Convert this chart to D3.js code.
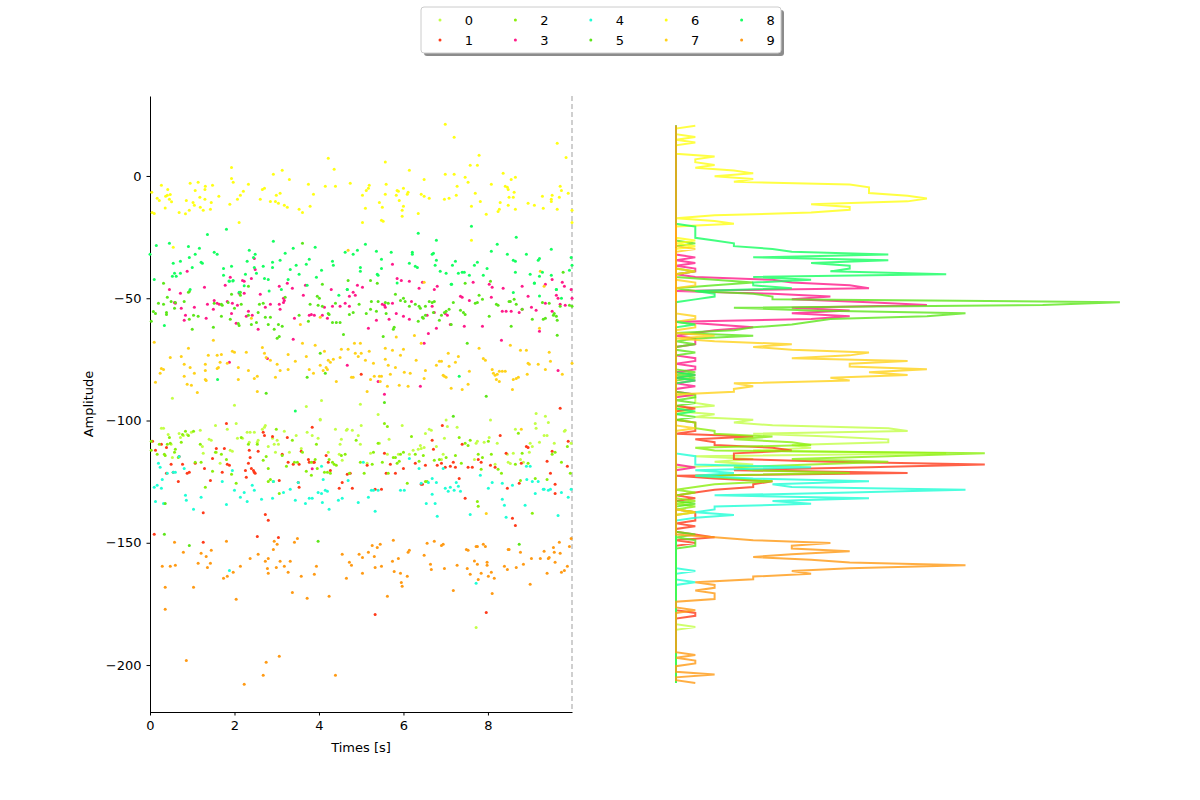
<!DOCTYPE html>
<html>
<head>
<meta charset="utf-8">
<title>Clusters</title>
<script src="https://cdn.jsdelivr.net/npm/d3@7"></script>
<style>
  body { margin: 0; background: #fff; }
  svg text { font-family: "DejaVu Sans", sans-serif; fill: #000; }
</style>
</head>
<body>
<svg id="chart" width="1200" height="800"></svg>
<script>
var labels = ["0", "1", "2", "3", "4", "5", "6", "7", "8", "9"];
var colors = ["#c3ff47", "#ff3a1a", "#8aef0c", "#ff1a8a", "#1effd6",
              "#5ce61a", "#ffff14", "#ffd21a", "#14ff60", "#ff9a14"];
var xTicks = [0, 2, 4, 6, 8];
var yTicks = [0, -50, -100, -150, -200];

// [time, amplitude] for every cluster
var series0 = [[0.27,-103.2],[0.32,-103.2],[0.43,-105.7],[0.50,-109.7],[0.53,-115.1],[0.69,-105.3],[0.72,-106.9],[0.79,-106.1],[0.88,-105.7],[0.98,-104.8],[1.19,-104.0],[1.24,-110.6],[1.26,-113.4],[1.40,-107.7],[1.45,-108.1],[1.55,-102.0],[1.57,-113.0],[1.66,-117.5],[1.83,-103.6],[1.90,-112.2],[1.95,-112.6],[2.04,-101.2],[2.07,-107.3],[2.19,-107.3],[2.30,-104.8],[2.35,-108.9],[2.37,-104.8],[2.47,-104.8],[2.54,-108.9],[2.56,-108.1],[2.66,-103.6],[2.71,-102.8],[2.73,-102.0],[2.80,-110.6],[2.90,-107.3],[2.94,-109.7],[2.97,-113.0],[3.01,-108.1],[3.04,-109.7],[3.18,-104.4],[3.30,-113.0],[3.46,-106.1],[3.58,-111.4],[3.72,-104.8],[3.84,-106.1],[3.98,-107.3],[4.03,-99.8],[4.22,-113.0],[4.39,-103.6],[4.48,-113.8],[4.50,-109.7],[4.53,-107.7],[4.55,-116.3],[4.65,-104.0],[4.67,-103.6],[4.79,-104.0],[4.93,-106.1],[4.98,-109.7],[5.00,-102.0],[5.14,-117.5],[5.22,-113.4],[5.43,-109.3],[5.62,-113.8],[5.66,-107.7],[5.88,-113.8],[5.97,-102.0],[6.14,-113.8],[6.23,-112.2],[6.35,-111.8],[6.40,-110.2],[6.42,-111.4],[6.49,-111.0],[6.52,-105.3],[6.61,-103.6],[6.66,-104.0],[6.78,-110.6],[6.90,-115.9],[6.94,-113.8],[6.97,-107.3],[7.01,-99.8],[7.04,-102.4],[7.27,-102.8],[7.68,-115.9],[7.72,-109.3],[7.75,-108.5],[7.91,-108.9],[8.03,-106.9],[8.06,-99.8],[8.17,-117.9],[8.22,-109.3],[8.46,-113.8],[8.48,-117.1],[8.53,-117.6],[8.60,-113.4],[8.65,-103.6],[8.77,-115.9],[8.84,-117.1],[8.98,-113.0],[9.00,-109.3],[9.05,-110.6],[9.12,-101.2],[9.14,-103.2],[9.22,-108.9],[9.33,-106.1],[9.40,-106.1],[9.43,-100.8],[9.57,-109.3],[9.81,-104.4],[9.83,-104.0],[9.97,-109.3],[0.53,-90.9],[2.00,-93.8],[3.70,-94.3],[4.06,-91.8],[4.98,-93.4],[5.40,-97.5],[9.14,-97.1],[9.36,-98.3],[4.03,-99.5],[7.72,-184.6]];

var series1 = [[0.06,-108.5],[0.13,-112.2],[0.27,-109.7],[0.39,-111.0],[0.39,-121.6],[0.50,-117.9],[0.55,-121.2],[0.67,-124.9],[0.69,-114.7],[0.77,-117.9],[0.88,-121.6],[0.93,-121.2],[1.07,-117.5],[1.26,-137.7],[1.29,-119.6],[1.43,-124.5],[1.48,-115.5],[1.57,-111.4],[1.71,-121.2],[1.76,-111.4],[1.81,-101.2],[1.83,-117.9],[1.88,-118.3],[2.26,-120.4],[2.28,-123.2],[2.33,-117.5],[2.35,-112.2],[2.37,-115.1],[2.40,-119.6],[2.45,-120.4],[2.47,-121.2],[2.49,-121.6],[2.56,-112.6],[2.68,-104.8],[2.71,-106.1],[2.73,-138.4],[2.80,-140.8],[2.90,-106.5],[3.06,-124.5],[3.13,-113.8],[3.25,-106.9],[3.27,-117.1],[3.39,-117.9],[3.51,-125.3],[3.53,-127.3],[3.58,-112.6],[3.75,-115.9],[3.77,-117.1],[3.87,-117.1],[3.89,-117.1],[3.84,-102.8],[4.17,-114.3],[4.22,-117.1],[4.27,-120.4],[4.48,-127.7],[4.55,-125.3],[4.67,-122.0],[4.74,-121.6],[4.79,-127.7],[5.14,-118.3],[5.33,-128.1],[5.48,-128.1],[5.55,-113.4],[5.59,-121.6],[5.69,-117.9],[5.81,-121.6],[6.00,-119.6],[6.28,-117.5],[6.42,-126.1],[6.45,-126.1],[6.52,-118.3],[6.68,-108.1],[6.71,-111.8],[6.80,-118.3],[6.92,-102.0],[6.90,-117.5],[6.99,-119.1],[7.11,-118.7],[7.18,-117.1],[7.23,-119.1],[7.32,-123.7],[7.39,-109.7],[7.46,-131.8],[7.53,-119.1],[7.63,-119.1],[7.77,-115.9],[7.84,-117.1],[8.06,-118.3],[8.17,-119.1],[8.29,-106.1],[8.43,-113.4],[8.46,-127.7],[8.58,-140.0],[8.65,-142.9],[8.74,-125.7],[8.79,-117.5],[8.91,-110.6],[8.95,-111.0],[9.40,-116.7],[9.52,-112.6],[9.59,-126.1],[9.59,-129.8],[9.88,-118.7],[9.90,-108.5],[9.48,-121.6],[0.10,-146.5],[1.26,-149.8],[2.54,-147.4],[3.04,-147.8],[3.53,-117.9],[5.00,-81.1],[9.71,-95.0],[5.33,-179.3],[7.96,-178.5]];

var series2 = [[0.03,-112.2],[0.03,-108.5],[0.17,-113.8],[0.22,-109.7],[0.36,-114.3],[0.34,-113.8],[0.41,-109.7],[0.46,-106.9],[0.48,-109.3],[0.58,-113.0],[0.60,-111.8],[0.67,-115.1],[0.74,-108.9],[0.77,-105.7],[0.84,-104.4],[0.91,-106.1],[1.03,-104.4],[1.07,-117.1],[1.19,-109.7],[1.21,-117.1],[1.31,-127.3],[1.48,-120.8],[1.55,-113.0],[1.69,-113.8],[1.81,-115.9],[1.93,-122.0],[2.04,-125.7],[2.16,-106.9],[2.33,-109.7],[2.54,-109.7],[2.68,-116.3],[2.75,-114.7],[2.80,-119.6],[2.80,-124.9],[2.85,-124.1],[2.92,-124.9],[2.99,-103.6],[3.06,-129.8],[3.13,-114.3],[3.23,-118.7],[3.37,-108.1],[3.42,-117.1],[3.49,-117.1],[3.61,-113.0],[3.70,-120.8],[3.82,-117.1],[3.82,-122.4],[3.91,-115.9],[3.94,-109.7],[3.96,-119.6],[4.13,-121.2],[4.20,-121.2],[4.24,-115.9],[4.27,-121.6],[4.32,-117.1],[4.36,-117.9],[4.41,-118.3],[4.53,-114.3],[4.62,-113.8],[4.72,-121.6],[4.88,-108.1],[4.98,-117.1],[5.07,-121.6],[5.26,-117.9],[5.29,-113.0],[5.40,-109.3],[5.50,-117.1],[5.64,-121.6],[5.76,-115.1],[5.81,-115.1],[5.85,-117.5],[5.90,-116.7],[5.93,-113.8],[6.00,-113.0],[6.09,-125.7],[6.19,-106.5],[6.28,-113.8],[6.37,-116.7],[6.47,-114.3],[6.52,-124.9],[6.56,-124.9],[6.73,-116.3],[6.85,-115.9],[7.01,-115.1],[7.23,-114.3],[7.32,-106.9],[7.37,-117.5],[7.46,-109.3],[7.53,-110.2],[7.58,-108.1],[7.77,-113.8],[7.84,-119.9],[7.87,-115.1],[8.08,-113.8],[8.24,-119.9],[8.32,-121.6],[8.65,-117.9],[8.77,-124.5],[8.81,-113.4],[8.95,-117.5],[9.05,-137.9],[9.12,-123.7],[9.40,-124.1],[9.52,-113.8],[9.59,-113.0],[9.74,-117.1],[9.88,-110.6],[9.95,-121.6],[5.55,-101.2],[5.62,-102.4],[8.72,-105.2],[7.75,-133.1],[7.77,-135.1],[8.01,-108.5]];

var series3 = [[0.46,-46.4],[0.88,-39.0],[1.29,-45.5],[1.78,-44.7],[1.90,-41.4],[2.19,-42.7],[2.23,-43.1],[2.40,-41.9],[2.47,-33.7],[2.49,-38.2],[3.06,-45.1],[3.25,-43.9],[3.37,-45.9],[3.68,-44.7],[4.29,-46.4],[4.91,-44.7],[5.03,-45.5],[5.74,-36.1],[5.85,-41.9],[5.95,-42.7],[6.14,-43.1],[6.37,-45.9],[6.45,-43.5],[6.73,-46.4],[6.80,-45.1],[7.65,-43.5],[8.03,-44.3],[8.10,-45.5],[8.36,-45.9],[8.81,-45.1],[9.36,-44.3],[9.52,-42.3],[9.76,-43.5],[9.81,-45.1],[9.97,-46.4],[0.58,-51.7],[0.60,-52.1],[0.72,-48.0],[0.74,-54.1],[0.81,-59.0],[0.84,-57.0],[1.05,-53.7],[1.33,-58.2],[1.36,-52.5],[1.50,-54.5],[1.52,-50.9],[1.59,-52.1],[1.64,-52.5],[1.83,-51.3],[1.93,-56.2],[1.95,-52.1],[2.04,-60.2],[2.07,-52.9],[2.11,-48.0],[2.23,-48.0],[2.28,-57.4],[2.33,-55.3],[2.42,-57.0],[2.56,-62.7],[2.61,-48.4],[2.73,-53.7],[2.85,-52.5],[3.06,-52.5],[3.08,-54.5],[3.16,-50.0],[3.18,-50.9],[3.16,-51.7],[3.39,-66.8],[3.42,-58.2],[3.63,-48.8],[3.77,-57.0],[3.82,-56.6],[3.89,-57.0],[4.08,-57.0],[4.13,-53.7],[4.20,-58.2],[4.32,-53.3],[4.50,-53.3],[4.62,-52.1],[4.72,-49.2],[4.72,-53.3],[4.81,-47.6],[4.86,-48.8],[5.17,-62.3],[5.36,-59.0],[5.50,-52.5],[5.55,-52.9],[5.57,-53.7],[5.66,-58.6],[5.74,-52.1],[5.83,-56.2],[6.00,-57.4],[6.14,-58.6],[6.19,-51.3],[6.56,-57.0],[6.59,-64.4],[6.68,-53.3],[6.73,-55.8],[6.78,-62.3],[6.99,-56.2],[7.04,-57.0],[7.11,-60.7],[7.35,-49.2],[7.39,-49.6],[7.44,-61.5],[7.56,-50.9],[7.87,-61.5],[8.08,-49.6],[8.32,-67.2],[8.34,-55.3],[8.43,-55.3],[8.55,-55.3],[8.74,-55.8],[8.81,-54.5],[8.95,-49.2],[9.03,-53.7],[9.14,-54.9],[9.22,-63.5],[9.36,-52.1],[9.52,-55.3],[9.62,-48.8],[9.66,-50.0],[9.71,-52.5],[9.99,-50.0],[9.83,-52.9],[1.88,-76.2],[2.78,-74.6],[4.67,-77.4],[5.40,-84.0],[5.55,-89.3],[6.40,-86.0],[6.49,-68.4],[9.66,-79.5],[3.84,-119.7]];

var series4 = [[0.20,-117.5],[0.24,-119.1],[0.10,-127.3],[0.17,-126.5],[0.27,-127.7],[0.29,-124.1],[0.13,-133.1],[0.32,-133.9],[0.41,-121.6],[0.55,-121.2],[0.60,-121.2],[0.69,-114.7],[0.81,-119.6],[0.84,-130.6],[0.86,-132.6],[1.03,-136.3],[1.21,-131.4],[1.71,-124.9],[1.81,-134.3],[1.95,-120.4],[2.00,-128.5],[2.14,-131.4],[2.23,-129.4],[2.30,-133.1],[2.42,-126.5],[2.47,-128.5],[2.64,-132.2],[2.90,-131.8],[2.92,-124.9],[3.16,-129.4],[3.32,-128.1],[3.44,-132.6],[3.51,-125.3],[3.68,-133.9],[3.77,-131.8],[3.84,-131.8],[3.98,-129.4],[4.06,-118.7],[4.06,-129.8],[4.08,-133.5],[4.10,-124.1],[4.15,-128.5],[4.20,-128.9],[4.24,-136.3],[4.46,-132.6],[4.55,-131.8],[4.69,-124.5],[4.93,-133.5],[5.05,-117.1],[5.17,-131.4],[5.24,-128.5],[5.29,-128.5],[5.33,-137.1],[5.40,-128.5],[5.93,-128.5],[6.02,-128.5],[6.14,-115.5],[6.37,-119.6],[6.42,-125.7],[6.54,-133.9],[6.59,-125.3],[6.68,-123.7],[6.68,-130.2],[6.75,-133.9],[6.78,-125.3],[6.80,-139.2],[6.94,-119.6],[6.99,-127.7],[7.06,-128.9],[7.11,-127.3],[7.20,-128.5],[7.25,-125.3],[7.30,-126.9],[7.35,-128.9],[7.58,-138.4],[7.82,-122.4],[8.01,-127.7],[8.10,-125.3],[8.34,-125.7],[8.34,-132.2],[8.39,-134.7],[8.43,-139.6],[8.58,-126.5],[8.88,-134.7],[8.92,-124.1],[9.00,-118.7],[9.05,-124.9],[9.12,-129.8],[9.19,-124.9],[9.31,-128.1],[9.33,-128.1],[9.43,-128.5],[9.48,-128.1],[9.66,-138.8],[9.74,-129.4],[9.90,-131.4],[9.97,-128.1],[8.91,-118.7],[1.88,-161.3],[7.72,-166.6]];

var series5 = [[0.03,-59.4],[0.08,-55.4],[0.13,-56.2],[0.20,-52.1],[0.32,-52.5],[0.39,-55.8],[0.39,-56.6],[0.41,-49.6],[0.50,-51.3],[0.58,-54.1],[0.60,-51.7],[0.81,-51.3],[0.91,-47.6],[0.93,-47.2],[0.93,-58.6],[1.00,-62.7],[1.03,-57.0],[1.14,-57.4],[1.50,-61.9],[1.52,-52.1],[1.69,-52.5],[1.71,-52.9],[1.69,-57.4],[1.85,-51.7],[1.93,-48.4],[1.90,-58.6],[2.00,-54.1],[2.09,-60.3],[2.11,-61.1],[2.14,-47.6],[2.14,-48.8],[2.16,-52.5],[2.33,-57.0],[2.40,-60.7],[2.52,-59.9],[2.56,-55.8],[2.59,-52.5],[2.68,-52.1],[2.73,-57.8],[2.80,-60.7],[2.85,-57.8],[2.94,-62.7],[3.01,-66.4],[3.06,-65.6],[3.04,-60.7],[3.13,-61.5],[3.20,-49.6],[3.53,-57.0],[3.75,-59.4],[3.79,-52.5],[3.96,-49.2],[3.98,-52.9],[4.01,-50.0],[4.08,-53.3],[4.22,-56.2],[4.24,-56.6],[4.32,-59.9],[4.39,-52.1],[4.41,-59.9],[4.50,-59.9],[4.58,-64.8],[4.72,-56.6],[4.81,-55.8],[4.95,-52.5],[5.12,-56.2],[5.22,-54.5],[5.24,-51.3],[5.36,-55.3],[5.40,-51.3],[5.52,-65.6],[5.57,-51.7],[5.59,-56.2],[5.64,-52.1],[5.76,-62.7],[5.78,-61.9],[5.81,-48.4],[5.93,-50.9],[6.00,-50.0],[6.04,-51.3],[6.14,-53.3],[6.28,-52.5],[6.35,-59.4],[6.37,-53.3],[6.40,-54.1],[6.45,-57.8],[6.47,-58.2],[6.52,-57.0],[6.52,-53.3],[6.61,-51.3],[6.68,-51.7],[6.71,-55.8],[6.73,-51.3],[6.85,-59.0],[6.90,-57.0],[6.97,-55.8],[7.01,-55.3],[7.08,-54.5],[7.13,-60.7],[7.18,-51.7],[7.35,-54.9],[7.42,-55.8],[7.46,-56.6],[7.51,-68.4],[7.70,-52.1],[7.75,-51.7],[7.79,-48.8],[7.87,-50.4],[8.03,-57.4],[8.20,-52.5],[8.24,-52.9],[8.50,-51.3],[8.53,-51.3],[8.55,-61.5],[8.62,-50.4],[8.67,-52.5],[8.81,-54.5],[9.05,-58.6],[9.29,-51.7],[9.31,-58.6],[9.36,-58.2],[9.45,-52.1],[9.55,-57.0],[9.57,-56.2],[9.62,-57.4],[9.64,-59.0],[9.64,-65.1],[9.71,-53.3],[9.93,-52.9],[9.99,-53.3],[4.03,-72.5],[4.15,-80.7],[3.72,-82.3],[2.75,-88.9],[5.55,-92.6],[7.18,-98.3],[7.96,-90.1],[0.32,-43.9],[2.33,-45.1],[3.61,-27.5],[4.08,-44.3],[4.69,-42.7],[5.22,-42.7],[5.38,-43.9],[7.46,-43.9],[8.06,-43.1],[9.78,-39.4],[0.36,-133.9],[0.93,-151.1],[3.98,-149.4],[8.74,-150.6],[0.34,-146.5]];

var series6 = [[0.04,-6.7],[0.05,-14.9],[0.10,-15.3],[0.17,-9.1],[0.22,-10.0],[0.27,-3.8],[0.36,-13.1],[0.37,-8.3],[0.41,-7.9],[0.42,-5.5],[0.46,-9.5],[0.48,-7.6],[0.51,-10.5],[0.55,-29.2],[0.69,-14.9],[0.84,-15.5],[0.86,-10.0],[0.93,-14.0],[0.95,-3.0],[1.02,-10.9],[1.05,-12.0],[1.07,-5.9],[1.14,-2.6],[1.18,-8.7],[1.19,-12.8],[1.26,-14.0],[1.30,-9.5],[1.30,-5.5],[1.31,-4.2],[1.43,-13.6],[1.45,-10.8],[1.48,-3.8],[1.63,-8.3],[1.89,-11.6],[1.93,3.5],[1.93,-1.0],[1.97,-2.6],[2.07,-9.5],[2.11,-19.0],[2.14,-7.9],[2.21,-6.3],[2.33,-3.4],[2.61,-9.5],[2.66,-5.5],[2.71,-5.0],[2.85,-10.4],[2.92,0.7],[2.97,-10.4],[2.99,-7.9],[3.04,-11.2],[3.08,-7.1],[3.13,2.3],[3.18,-12.0],[3.25,-12.8],[3.30,-1.4],[3.53,-13.6],[3.61,-14.9],[3.75,-3.4],[3.79,-12.4],[3.87,-7.5],[4.15,-4.2],[4.22,7.2],[4.36,2.7],[4.39,-4.2],[4.74,-3.0],[5.03,-19.0],[5.03,-7.9],[5.10,-13.2],[5.12,-5.9],[5.17,-5.0],[5.19,-3.8],[5.43,-10.8],[5.50,-12.8],[5.48,-18.1],[5.52,-18.5],[5.57,5.7],[5.57,-7.5],[5.59,-3.4],[5.83,-7.9],[5.85,-5.9],[5.88,-6.3],[5.90,-10.0],[5.97,-14.0],[5.97,-16.5],[6.00,-12.4],[6.00,-5.0],[6.09,-7.5],[6.11,-6.7],[6.14,2.3],[6.35,-15.3],[6.42,-7.5],[6.49,-8.3],[6.49,-1.4],[6.61,-9.1],[6.97,-9.5],[6.99,0.7],[6.99,21.1],[7.08,-9.1],[7.20,15.8],[7.20,0.7],[7.25,-7.9],[7.27,-4.2],[7.46,-0.5],[7.53,-2.6],[7.58,4.4],[7.61,-12.4],[7.61,-26.3],[7.70,-7.1],[7.75,4.4],[7.79,8.5],[7.82,-10.4],[7.96,-15.7],[8.08,-3.4],[8.24,-14.5],[8.27,-13.6],[8.29,-10.8],[8.36,1.1],[8.41,-4.2],[8.46,-4.6],[8.48,-12.0],[8.48,-5.5],[8.55,-1.4],[8.50,-8.7],[8.60,-8.7],[8.62,-6.7],[8.65,-13.6],[8.65,-0.5],[8.95,-11.2],[9.10,-12.0],[9.29,-8.3],[9.31,-13.2],[9.50,-10.4],[9.52,-7.9],[9.50,-9.5],[9.64,-13.6],[9.69,-8.7],[9.71,-4.2],[9.74,-5.9],[9.64,13.4],[9.85,7.6],[9.90,-7.1],[9.99,-14.0],[9.99,-19.0]];

var series7 = [[0.10,-68.0],[0.13,-84.4],[0.24,-80.7],[0.27,-78.7],[0.32,-79.1],[0.48,-74.2],[0.74,-73.8],[0.81,-77.0],[0.81,-81.9],[0.91,-70.5],[0.95,-78.3],[0.88,-85.2],[0.98,-85.6],[1.05,-80.7],[1.12,-88.5],[1.31,-77.0],[1.31,-79.5],[1.31,-83.2],[1.33,-83.6],[1.38,-73.3],[1.50,-67.2],[1.59,-73.3],[1.59,-78.7],[1.62,-78.3],[1.66,-76.2],[1.69,-73.0],[1.83,-76.6],[1.95,-71.7],[2.00,-72.1],[2.09,-78.3],[2.09,-83.2],[2.28,-72.1],[2.33,-79.5],[2.40,-58.2],[2.47,-82.8],[2.54,-81.9],[2.54,-88.1],[2.66,-70.1],[2.71,-72.5],[2.75,-74.2],[2.85,-75.4],[2.97,-82.3],[3.01,-77.0],[3.08,-79.5],[3.27,-73.0],[3.27,-79.1],[3.44,-75.8],[3.56,-60.7],[3.61,-68.4],[3.70,-73.8],[3.77,-79.1],[3.87,-80.7],[3.91,-69.2],[4.03,-57.8],[4.03,-77.4],[4.10,-79.5],[4.13,-71.7],[4.17,-78.3],[4.20,-79.1],[4.22,-75.4],[4.27,-76.2],[4.34,-75.0],[4.41,-84.0],[4.50,-74.2],[4.53,-70.9],[4.69,-70.9],[4.77,-82.3],[4.81,-82.3],[4.84,-68.4],[4.86,-72.5],[4.93,-73.8],[4.98,-68.4],[5.00,-72.5],[5.10,-75.4],[5.14,-88.1],[5.19,-71.7],[5.22,-83.2],[5.29,-76.6],[5.31,-81.9],[5.43,-81.9],[5.45,-84.0],[5.48,-81.9],[5.57,-70.5],[5.57,-75.0],[5.62,-86.0],[5.64,-77.4],[5.69,-81.1],[5.74,-71.3],[5.81,-78.3],[5.83,-65.9],[5.90,-85.6],[5.93,-73.3],[6.00,-70.9],[6.02,-80.3],[6.11,-86.0],[6.16,-80.7],[6.26,-65.2],[6.30,-75.4],[6.42,-68.4],[6.49,-82.8],[6.52,-79.5],[6.78,-77.4],[6.85,-75.8],[6.90,-75.8],[6.94,-81.5],[6.97,-81.9],[7.01,-82.3],[7.06,-72.5],[7.08,-77.8],[7.13,-86.8],[7.23,-76.2],[7.30,-73.8],[7.39,-87.3],[7.53,-85.2],[7.56,-79.9],[7.79,-70.5],[7.89,-74.6],[7.94,-75.4],[8.10,-79.1],[8.13,-80.7],[8.17,-81.5],[8.20,-83.2],[8.27,-84.0],[8.22,-81.1],[8.27,-79.9],[8.34,-79.9],[8.41,-79.9],[8.53,-69.2],[8.58,-87.3],[8.60,-83.2],[8.67,-82.8],[8.72,-82.3],[8.77,-71.3],[8.91,-71.3],[8.93,-81.1],[8.95,-76.6],[8.98,-77.0],[9.19,-77.0],[9.36,-79.1],[9.45,-72.1],[9.48,-75.8],[9.76,-81.1],[9.99,-76.6],[9.22,-62.3],[6.49,-43.5],[9.33,-45.1],[9.24,-39.0],[4.69,-30.4],[8.79,-103.6],[7.96,-138.0]];

var series8 = [[0.00,-32.0],[0.10,-42.3],[0.15,-28.4],[0.46,-27.5],[0.53,-41.0],[0.55,-35.7],[0.58,-39.8],[0.62,-41.0],[0.72,-34.9],[0.72,-39.8],[0.91,-28.8],[0.93,-33.3],[0.95,-46.4],[1.00,-37.4],[1.07,-32.0],[1.17,-29.6],[1.21,-35.3],[1.24,-35.7],[1.36,-23.9],[1.52,-31.2],[1.59,-32.0],[1.74,-37.8],[1.74,-40.6],[1.81,-21.8],[1.88,-43.1],[1.93,-36.9],[1.97,-42.7],[2.26,-40.2],[2.30,-34.9],[2.35,-30.4],[2.45,-33.3],[2.47,-37.4],[2.49,-32.0],[2.52,-39.8],[2.68,-36.9],[2.71,-41.9],[2.80,-42.3],[2.90,-35.3],[2.90,-37.4],[2.92,-26.7],[3.08,-34.5],[3.11,-46.4],[3.20,-31.6],[3.27,-42.3],[3.32,-38.2],[3.39,-29.6],[3.46,-36.5],[3.53,-40.2],[3.70,-36.1],[3.72,-44.7],[3.77,-34.1],[3.91,-29.2],[3.94,-41.4],[4.06,-38.6],[4.32,-34.9],[4.34,-36.5],[4.62,-31.2],[4.67,-46.4],[4.81,-32.0],[4.91,-30.4],[4.98,-37.4],[4.98,-39.0],[5.10,-27.9],[5.36,-30.8],[5.38,-40.2],[5.40,-40.6],[5.48,-34.1],[5.48,-37.8],[5.71,-31.2],[6.14,-35.7],[6.21,-31.2],[6.21,-32.0],[6.28,-36.9],[6.33,-37.4],[6.35,-23.4],[6.68,-32.0],[6.71,-31.6],[6.75,-36.5],[6.78,-26.3],[6.78,-34.5],[6.87,-39.0],[7.01,-39.8],[7.13,-44.3],[7.16,-36.5],[7.23,-34.9],[7.30,-39.8],[7.39,-39.4],[7.44,-39.4],[7.56,-40.6],[7.61,-20.6],[7.68,-36.5],[7.75,-35.3],[7.89,-40.6],[7.98,-37.8],[8.08,-30.8],[8.22,-27.9],[8.46,-32.0],[8.60,-34.5],[8.65,-34.9],[8.65,-39.4],[8.67,-25.1],[8.91,-32.0],[9.00,-40.2],[9.10,-43.9],[9.19,-34.5],[9.22,-33.7],[9.22,-41.0],[9.29,-39.4],[9.50,-30.0],[9.50,-40.6],[9.62,-46.4],[9.93,-38.6],[9.97,-33.3],[9.99,-36.5],[1.87,-43.0],[1.96,-43.0],[2.23,-44.9],[2.11,-47.6],[2.82,-47.0],[4.47,-48.8],[4.67,-46.4],[5.85,-43.8],[7.14,-44.3],[8.60,-47.7],[9.10,-43.8],[9.22,-49.1],[9.62,-46.4],[9.74,-50.0],[0.34,-61.1],[1.60,-83.2],[3.44,-96.1],[7.32,-81.9]];

var series9 = [[0.58,-149.8],[0.79,-153.9],[1.21,-154.3],[1.33,-155.6],[1.45,-153.1],[1.81,-149.4],[2.37,-156.4],[2.56,-154.7],[2.80,-156.4],[2.92,-152.7],[2.94,-149.4],[3.01,-150.6],[3.42,-149.8],[3.49,-148.2],[4.55,-154.7],[4.95,-154.7],[5.03,-156.0],[5.17,-153.9],[5.26,-151.1],[5.31,-155.6],[5.38,-151.9],[5.45,-150.6],[5.76,-149.0],[5.88,-156.4],[6.11,-153.9],[6.14,-153.1],[6.49,-155.1],[6.56,-150.2],[6.73,-149.4],[6.90,-151.1],[6.94,-150.6],[7.49,-152.7],[7.53,-153.1],[7.72,-151.5],[7.75,-151.5],[7.94,-151.5],[7.89,-150.6],[8.48,-152.7],[8.50,-152.7],[8.77,-153.9],[9.03,-156.4],[9.24,-156.4],[9.33,-153.5],[9.43,-156.4],[9.45,-156.0],[9.55,-151.9],[9.57,-153.9],[9.69,-149.8],[9.71,-154.3],[9.97,-148.2],[9.93,-151.5],[0.29,-159.6],[0.48,-159.6],[0.60,-159.2],[1.14,-158.4],[1.36,-160.1],[1.43,-158.4],[1.74,-164.5],[1.83,-163.7],[1.97,-162.1],[2.14,-159.6],[2.73,-157.6],[2.78,-160.5],[2.80,-162.5],[2.99,-160.1],[3.08,-157.6],[3.18,-159.6],[3.27,-162.1],[3.32,-157.6],[3.58,-163.7],[3.89,-162.9],[3.94,-159.6],[4.65,-164.5],[4.72,-158.0],[4.77,-159.2],[5.03,-162.5],[5.33,-160.1],[5.48,-159.6],[5.74,-157.6],[5.78,-161.7],[5.93,-162.5],[5.95,-166.2],[5.97,-167.8],[6.09,-163.7],[6.64,-158.8],[6.66,-160.9],[6.97,-160.5],[7.27,-159.2],[7.51,-160.5],[7.58,-162.9],[7.68,-157.5],[7.75,-158.8],[7.77,-165.0],[7.84,-162.5],[7.98,-158.0],[7.98,-159.2],[8.01,-163.7],[8.08,-162.1],[8.15,-164.5],[8.10,-170.7],[8.39,-159.6],[8.46,-160.9],[8.67,-160.1],[8.84,-158.8],[9.00,-167.0],[9.40,-162.5],[9.59,-158.0],[9.74,-162.1],[9.81,-161.3],[9.88,-159.6],[0.36,-168.2],[1.03,-168.2],[0.36,-177.2],[2.04,-173.1],[3.37,-170.3],[3.72,-172.7],[4.24,-171.9],[5.62,-171.9],[7.18,-169.5],[0.86,-198.1],[2.75,-198.9],[3.06,-196.4],[2.68,-204.2],[4.39,-204.2],[2.23,-207.9]];

var allSeries = [series0, series1, series2, series3, series4, series5, series6, series7, series8, series9];

var svg = d3.select("#chart");

var x = d3.scaleLinear().domain([0, 9.99]).range([150, 572]);
var y = d3.scaleLinear().domain([-219.2, 32.7]).range([712, 96]);
var minus = function(d) { return d < 0 ? "\u2212" + Math.abs(d) : String(d); };

// left panel: scatter
var gx = svg.append("g").attr("transform", "translate(0,712)")
  .call(d3.axisBottom(x).tickValues(xTicks).tickSize(3.5).tickSizeOuter(0).tickPadding(5));
var gy = svg.append("g").attr("transform", "translate(150,0)")
  .call(d3.axisLeft(y).tickValues(yTicks).tickSize(3.5).tickSizeOuter(0).tickPadding(5).tickFormat(minus));
[gx, gy].forEach(function(g) {
  g.selectAll("text").attr("font-size", 13).attr("font-family", "DejaVu Sans");
  g.select(".domain").attr("stroke", "#000").attr("stroke-width", 1);
  g.selectAll(".tick line").attr("stroke", "#000");
});

svg.append("line")
  .attr("x1", x(9.99)).attr("x2", x(9.99))
  .attr("y1", 96).attr("y2", 712)
  .attr("stroke", "#b0b0b0").attr("stroke-width", 1.2)
  .attr("stroke-dasharray", "5,3");

allSeries.forEach(function(s, i) {
  svg.append("g").selectAll("circle")
    .data(s)
    .enter()
    .append("circle")
    .attr("cx", function(d) { return x(d[0]); })
    .attr("cy", function(d) { return y(d[1]); })
    .attr("r", 1.5)
    .attr("fill", colors[i]);
});

svg.append("text")
  .attr("x", 361).attr("y", 752)
  .attr("text-anchor", "middle").attr("font-size", 13)
  .text("Times [s]");
svg.append("text")
  .attr("transform", "translate(93,404) rotate(-90)")
  .attr("text-anchor", "middle").attr("font-size", 13)
  .text("Amplitude");

// right panel: per-cluster histograms on shared amplitude bins
var nBins = 200;
var allAmps = [].concat.apply([], allSeries).map(function(d) { return d[1]; });
var lo = d3.min(allAmps), hi = d3.max(allAmps);
var edges = d3.range(1, nBins).map(function(k) { return lo + k * (hi - lo) / nBins; });
var binner = d3.bin().value(function(d) { return d[1]; }).domain([lo, hi]).thresholds(edges);
var hx = d3.scaleLinear().domain([0, 20]).range([676, 1062]);

var hline = d3.line()
  .x(function(b) { return hx(b.length); })
  .y(function(b) { return y((b.x0 + b.x1) / 2); });

allSeries.forEach(function(s, i) {
  svg.append("path")
    .datum(binner(s))
    .attr("d", hline)
    .attr("fill", "none")
    .attr("stroke", colors[i])
    .attr("stroke-opacity", 0.8)
    .attr("stroke-width", 2);
});

// legend
var legend = svg.append("g");
legend.append("rect")
  .attr("x", 424).attr("y", 10).attr("width", 360).attr("height", 46)
  .attr("rx", 3).attr("fill", "#7f7f7f").attr("opacity", 0.9);
legend.append("rect")
  .attr("x", 421).attr("y", 7).attr("width", 360).attr("height", 46)
  .attr("rx", 3).attr("fill", "#fff").attr("stroke", "#cccccc");

labels.forEach(function(lab, i) {
  var col = Math.floor(i / 2), row = i % 2;
  var lx = 440 + col * 75.4, ly = 20 + row * 20;
  legend.append("circle").attr("cx", lx).attr("cy", ly).attr("r", 1.5).attr("fill", colors[i]);
  legend.append("text").attr("x", lx + 29).attr("y", ly + 4.5)
    .attr("text-anchor", "middle").attr("font-size", 13).text(lab);
});
</script>
</body>
</html>
